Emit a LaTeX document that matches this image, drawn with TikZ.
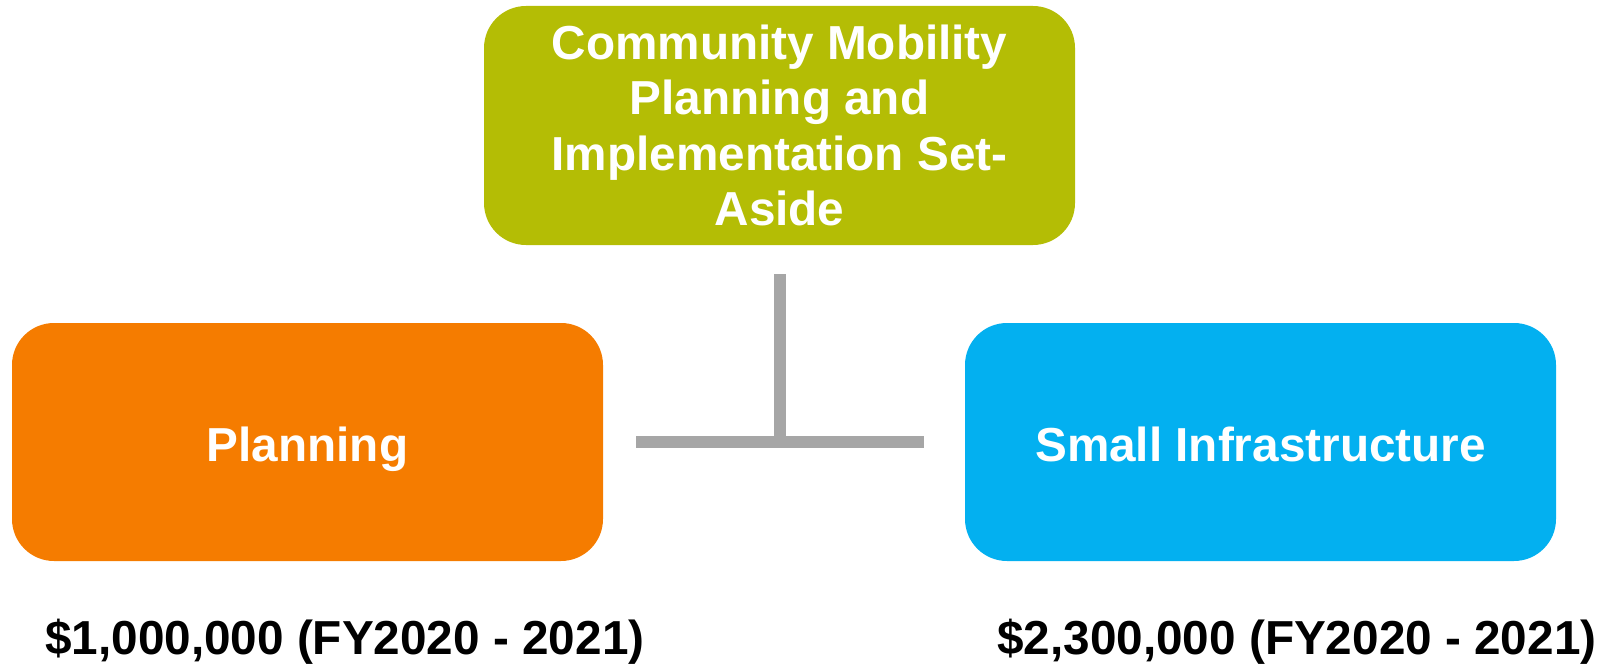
\documentclass[tikz,border=0pt]{standalone}
\usepackage{fontspec}
\setmainfont{Liberation Sans}
\definecolor{olivebox}{RGB}{180,189,5}
\definecolor{orangebox}{RGB}{245,124,0}
\definecolor{bluebox}{RGB}{3,176,240}
\definecolor{connector}{RGB}{166,166,166}
\begin{document}
\begin{tikzpicture}[x=1pt,y=-1pt,
  box/.style={rectangle, rounded corners=42pt, minimum width=591pt, minimum height=238pt, inner sep=0pt, text=white, font=\fontsize{47.7}{55.5}\selectfont\bfseries, align=center},
  amount/.style={anchor=base west, inner sep=0pt, text=black, font=\fontsize{47.7}{55.5}\selectfont\bfseries},
  link/.style={draw=connector, line width=12pt}]
\useasboundingbox (0,0) rectangle (1603,666);
\node[box, fill=olivebox, minimum height=239pt] (top) at (779.5,125.5) {Community Mobility\\Planning and\\Implementation Set-\\Aside};
\node[box, fill=orangebox] (plan) at (307.5,442) {};
\node[box, fill=bluebox] (infra) at (1260.5,442) {};
\node[anchor=base, inner sep=0pt, text=white, font=\fontsize{47.7}{55.5}\selectfont\bfseries] (planlabel) at (307.5,461) {Planning};
\node[anchor=base, inner sep=0pt, text=white, font=\fontsize{47.7}{55.5}\selectfont\bfseries] (infralabel) at (1260.5,461) {Small Infrastructure};
\node[amount] (planamt) at (45,654) {\$1,000,000 (FY2020 - 2021)};
\node[amount] (infraamt) at (997,654) {\$2,300,000 (FY2020 - 2021)};
\coordinate (stem) at (780,274);
\coordinate (junction) at (780,442);
\coordinate (barleft) at (636,442);
\coordinate (barright) at (924,442);
\draw[link] (stem) -- (junction);
\draw[link] (barleft) -- (barright);
\end{tikzpicture}
\end{document}
